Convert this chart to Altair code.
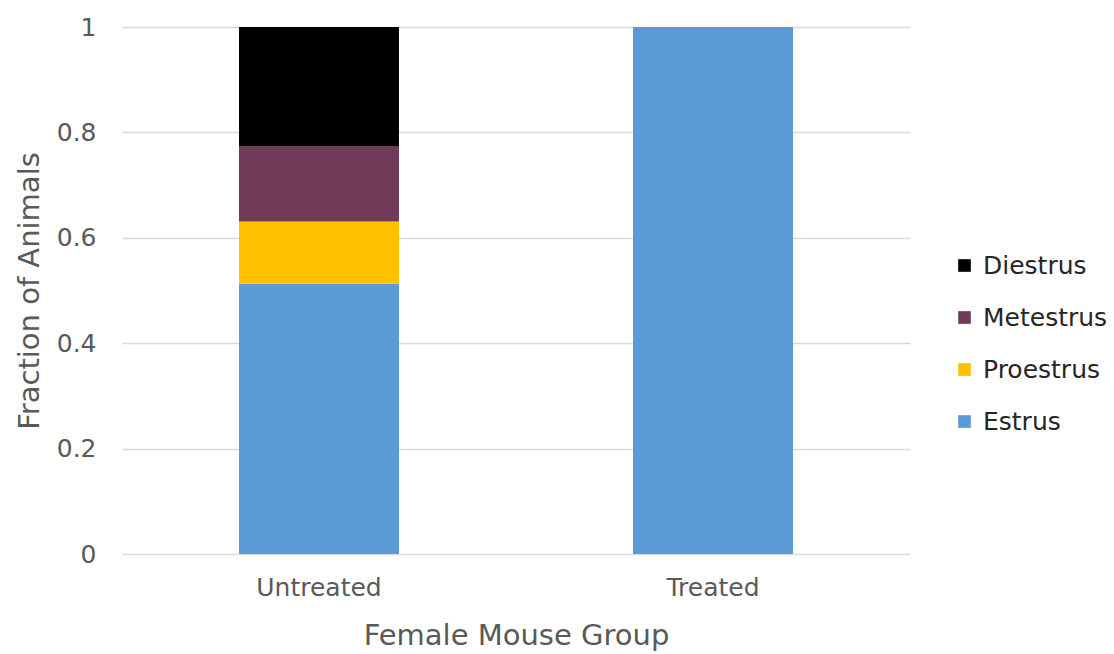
import altair as alt
import pandas as pd

# Estrous-cycle stage fractions per group
groups = ["Untreated", "Treated"]
stages = ["Estrus", "Proestrus", "Metestrus", "Diestrus"]
untreated = [0.513, 0.118, 0.143, 0.226]
treated = [1.0, 0.0, 0.0, 0.0]
stage_colors = ["#5B9BD5", "#FFC000", "#703A58", "#000000"]
legend_order = ["Diestrus", "Metestrus", "Proestrus", "Estrus"]

rows = []
for g, vals in zip(groups, [untreated, treated]):
    for i, (s, v) in enumerate(zip(stages, vals)):
        rows.append({"group": g, "stage": s, "fraction": v, "stack": i})
df = pd.DataFrame(rows)

font = "DejaVu Sans"
text_color = "#595959"

chart = alt.Chart(df).mark_bar().encode(
    x=alt.X(
        "group:N",
        sort=groups,
        scale=alt.Scale(paddingInner=0.594, paddingOuter=0.297),
        axis=alt.Axis(
            title="Female Mouse Group",
            labelAngle=0,
            labelFontSize=25,
            labelColor=text_color,
            labelPadding=21,
            titleFontSize=29,
            titleColor=text_color,
            titleFontWeight="normal",
            titlePadding=21,
            ticks=False,
            domain=False,
        ),
    ),
    y=alt.Y(
        "fraction:Q",
        stack="zero",
        scale=alt.Scale(domain=[0, 1], nice=False),
        axis=alt.Axis(
            title="Fraction of Animals",
            values=[0, 0.2, 0.4, 0.6, 0.8, 1],
            labelExpr="datum.value == 0 || datum.value == 1 ? format(datum.value, 'd') : format(datum.value, '.1f')",
            labelFontSize=25,
            labelColor=text_color,
            labelPadding=26,
            titleFontSize=29,
            titleColor=text_color,
            titleFontWeight="normal",
            titlePadding=12,
            ticks=False,
            domain=False,
            gridColor="#d9d9d9",
            gridWidth=1.5,
        ),
    ),
    color=alt.Color(
        "stage:N",
        scale=alt.Scale(domain=stages, range=stage_colors),
        sort=legend_order,
        legend=alt.Legend(
            title=None,
            orient="none",
            legendX=830,
            legendY=226,
            values=legend_order,
            symbolType="square",
            symbolSize=160,
            symbolStrokeWidth=0,
            labelFontSize=25,
            labelColor="#262626",
            labelFont=font,
            rowPadding=26,
            labelOffset=6,
        ),
    ),
    order=alt.Order("stack:Q", sort="ascending"),
).properties(
    width=788,
    height=527,
    padding={"left": 122, "top": 27, "right": 204, "bottom": 100},
    autosize=alt.AutoSizeParams(type="none"),
).configure(
    font=font,
    view=alt.ViewConfig(stroke=None),
)

chart.save("out.html", embed_options={"renderer": "svg", "actions": False})
